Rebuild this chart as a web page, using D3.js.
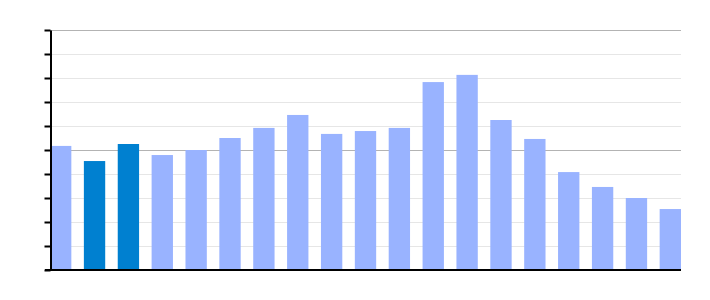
<!DOCTYPE html>
<html>
<head>
<meta charset="utf-8">
<script src="https://cdn.jsdelivr.net/npm/d3@7"></script>
<style>
  body { margin: 0; background: #fff; }
  svg { display: block; }
</style>
</head>
<body>
<div id="chart"></div>
<script>
const w = 710;
const h = 300;
const margin = {top: 30, right: 29, bottom: 30, left: 50};

// bar values (axis has no labels, scale 0-100)
const categories = d3.range(1, 20).map((d) => "c" + d);
const values = [51.7, 45.4, 52.5, 47.9, 50, 55, 59.2, 64.6, 56.7, 57.9, 59.2, 78.3, 81.3, 62.5, 54.6, 40.8, 34.6, 30, 25.4];
const highlighted = ["c2", "c3"];
const ticks = d3.range(0, 101, 10);
const majorTicks = [50, 100];

const svg = d3.select("#chart").append("svg")
  .attr("width", w)
  .attr("height", h);

const x = d3.scaleBand()
  .domain(categories)
  .range([margin.left, w - margin.right])
  .paddingInner(0.37)
  .paddingOuter(0);

const y = d3.scaleLinear()
  .domain([0, 100])
  .range([h - margin.bottom, margin.top]);

// gridlines
svg.append("g").selectAll("line")
  .data(ticks.filter((t) => t > 0))
  .enter()
  .append("line")
  .attr("x1", margin.left)
  .attr("x2", w - margin.right)
  .attr("y1", (d) => Math.round(y(d)) + 0.5)
  .attr("y2", (d) => Math.round(y(d)) + 0.5)
  .style("stroke", (d) => majorTicks.includes(d) ? "#b3b3b3" : "#e6e6e6")
  .style("stroke-width", 1);

// bars
svg.append("g").selectAll("rect")
  .data(values)
  .enter()
  .append("rect")
  .attr("x", (d, i) => x(categories[i]))
  .attr("y", (d) => y(d))
  .attr("width", x.bandwidth())
  .attr("height", (d) => y(0) - y(d))
  .style("fill", (d, i) => highlighted.includes(categories[i]) ? "#0080d0" : "#99b3ff");

// left axis with unlabelled ticks
const yAxis = d3.axisLeft(y)
  .tickValues(ticks)
  .tickSize(5)
  .tickSizeOuter(0)
  .tickFormat("");

svg.append("g")
  .attr("transform", "translate(" + (margin.left + 0.5) + ",0)")
  .call(yAxis)
  .call((g) => g.selectAll("line, path").style("stroke", "#000").style("stroke-width", 2))
  .call((g) => g.selectAll("line").attr("x2", -6));

// baseline
svg.append("line")
  .attr("x1", margin.left - 5)
  .attr("x2", w - margin.right)
  .attr("y1", y(0))
  .attr("y2", y(0))
  .style("stroke", "#000")
  .style("stroke-width", 2);
</script>
</body>
</html>
